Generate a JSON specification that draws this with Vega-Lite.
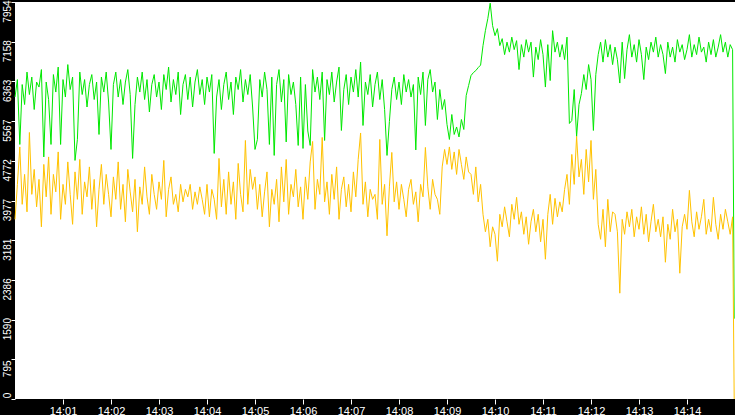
{
  "$schema": "https://vega.github.io/schema/vega-lite/v6.json",
  "width": 720,
  "height": 397,
  "autosize": {"type": "none"},
  "padding": {"left": 15, "top": 2, "right": 0, "bottom": 16},
  "background": "#000000",
  "config": {"view": {"fill": "#ffffff", "stroke": null}},
  "data": {
    "values": [
      {"t":0,"g":6050,"o":3600},{"t":3,"g":6400,"o":4300},{"t":6,"g":5100,"o":5050},{"t":9,"g":6300,"o":3900},{"t":12,"g":5900,"o":4500},
      {"t":15,"g":6550,"o":3750},{"t":18,"g":6100,"o":5340},{"t":21,"g":6450,"o":4100},{"t":24,"g":5800,"o":4600},{"t":27,"g":6350,"o":3850},
      {"t":30,"g":6250,"o":4400},{"t":33,"g":6600,"o":3450},{"t":36,"g":4850,"o":4700},{"t":39,"g":6350,"o":4050},{"t":42,"g":6000,"o":4850},
      {"t":45,"g":5100,"o":3700},{"t":48,"g":6500,"o":4500},{"t":51,"g":6150,"o":4150},{"t":54,"g":6650,"o":4950},{"t":57,"g":5100,"o":3600},
      {"t":60,"g":6400,"o":4300},{"t":63,"g":6050,"o":3900},{"t":66,"g":6700,"o":4750},{"t":69,"g":6200,"o":4100},{"t":72,"g":6450,"o":3500},
      {"t":75,"g":4780,"o":4550},{"t":78,"g":5200,"o":4000},{"t":81,"g":6550,"o":4800},{"t":84,"g":6100,"o":3700},{"t":87,"g":6400,"o":4350},
      {"t":90,"g":5850,"o":4050},{"t":93,"g":6300,"o":4650},{"t":96,"g":6500,"o":3800},{"t":99,"g":6000,"o":4400},{"t":102,"g":6350,"o":3450},
      {"t":105,"g":5300,"o":4200},{"t":108,"g":6450,"o":4700},{"t":111,"g":6150,"o":3900},{"t":114,"g":6550,"o":4500},{"t":117,"g":5950,"o":4100},
      {"t":120,"g":5000,"o":3650},{"t":123,"g":6300,"o":4450},{"t":126,"g":6550,"o":4000},{"t":129,"g":6050,"o":4750},{"t":132,"g":6400,"o":3800},
      {"t":135,"g":5900,"o":4300},{"t":138,"g":6350,"o":3550},{"t":141,"g":6600,"o":4600},{"t":144,"g":6100,"o":4150},{"t":147,"g":4820,"o":3750},
      {"t":150,"g":5900,"o":4400},{"t":153,"g":6450,"o":3350},{"t":156,"g":6150,"o":4250},{"t":159,"g":6550,"o":3900},{"t":162,"g":6000,"o":4650},
      {"t":165,"g":6400,"o":4050},{"t":168,"g":5750,"o":3700},{"t":171,"g":6300,"o":4500},{"t":174,"g":6500,"o":4100},{"t":177,"g":6050,"o":3800},
      {"t":180,"g":6350,"o":4350},{"t":183,"g":5800,"o":4000},{"t":186,"g":6500,"o":4780},{"t":189,"g":6200,"o":3650},{"t":192,"g":6650,"o":4200},
      {"t":195,"g":5950,"o":4450},{"t":198,"g":6400,"o":3900},{"t":201,"g":6100,"o":4100},{"t":204,"g":6550,"o":3750},{"t":207,"g":5700,"o":4300},
      {"t":210,"g":6300,"o":3950},{"t":213,"g":6500,"o":4200},{"t":216,"g":6000,"o":4050},{"t":219,"g":6450,"o":4300},{"t":222,"g":5850,"o":3800},
      {"t":225,"g":6350,"o":4150},{"t":228,"g":6600,"o":3900},{"t":231,"g":6100,"o":4250},{"t":234,"g":6400,"o":4000},{"t":237,"g":5900,"o":3700},
      {"t":240,"g":6450,"o":4300},{"t":243,"g":6150,"o":3650},{"t":246,"g":6500,"o":4200},{"t":249,"g":4920,"o":4000},{"t":252,"g":6050,"o":3600},
      {"t":255,"g":6400,"o":4820},{"t":258,"g":5800,"o":3850},{"t":261,"g":6300,"o":4400},{"t":264,"g":6550,"o":3700},{"t":267,"g":6000,"o":4550},
      {"t":270,"g":6350,"o":3900},{"t":273,"g":5700,"o":4350},{"t":276,"g":6450,"o":3600},{"t":279,"g":6200,"o":4720},{"t":282,"g":6600,"o":4100},
      {"t":285,"g":5950,"o":3750},{"t":288,"g":6400,"o":5180},{"t":291,"g":6100,"o":3900},{"t":294,"g":6500,"o":4600},{"t":297,"g":5850,"o":4200},
      {"t":300,"g":5000,"o":4450},{"t":303,"g":5200,"o":3800},{"t":306,"g":6400,"o":4300},{"t":309,"g":6050,"o":3650},{"t":312,"g":6550,"o":4150},
      {"t":315,"g":6200,"o":4550},{"t":318,"g":5100,"o":3450},{"t":321,"g":6450,"o":4200},{"t":324,"g":4880,"o":3900},{"t":327,"g":6300,"o":4400},
      {"t":330,"g":6600,"o":3550},{"t":333,"g":5950,"o":4650},{"t":336,"g":6400,"o":3950},{"t":339,"g":5150,"o":4800},{"t":342,"g":6500,"o":3700},
      {"t":345,"g":6100,"o":4300},{"t":348,"g":6350,"o":4050},{"t":351,"g":5900,"o":4600},{"t":354,"g":5080,"o":3850},{"t":357,"g":6450,"o":4250},
      {"t":360,"g":5020,"o":3600},{"t":363,"g":6300,"o":4450},{"t":366,"g":5370,"o":4000},{"t":369,"g":5080,"o":4750},{"t":372,"g":6600,"o":5160},
      {"t":375,"g":6150,"o":3800},{"t":378,"g":6450,"o":4400},{"t":381,"g":6000,"o":4100},{"t":384,"g":6550,"o":5240},{"t":387,"g":5180,"o":3950},
      {"t":390,"g":6400,"o":4350},{"t":393,"g":6100,"o":3700},{"t":396,"g":6550,"o":4500},{"t":399,"g":5950,"o":4000},{"t":402,"g":6350,"o":4650},
      {"t":405,"g":6650,"o":3600},{"t":408,"g":5380,"o":4200},{"t":411,"g":6200,"o":4450},{"t":414,"g":6500,"o":3850},{"t":417,"g":5900,"o":4300},
      {"t":420,"g":6450,"o":3750},{"t":423,"g":6150,"o":4550},{"t":426,"g":6600,"o":4050},{"t":429,"g":6050,"o":4800},{"t":432,"g":6750,"o":5330},
      {"t":435,"g":5480,"o":3900},{"t":438,"g":6350,"o":4350},{"t":441,"g":6100,"o":3650},{"t":444,"g":6500,"o":4200},{"t":447,"g":5850,"o":4000},
      {"t":450,"g":6300,"o":4100},{"t":453,"g":6550,"o":3600},{"t":456,"g":6000,"o":5200},{"t":459,"g":6400,"o":3900},{"t":462,"g":5800,"o":4300},
      {"t":465,"g":4880,"o":3270},{"t":468,"g":5560,"o":4250},{"t":471,"g":6200,"o":4940},{"t":474,"g":6450,"o":3950},{"t":477,"g":6000,"o":4350},
      {"t":480,"g":6350,"o":3800},{"t":483,"g":5900,"o":4300},{"t":486,"g":6500,"o":4000},{"t":489,"g":6150,"o":3650},{"t":492,"g":6400,"o":4200},
      {"t":495,"g":6050,"o":4400},{"t":498,"g":6300,"o":3900},{"t":501,"g":4990,"o":4150},{"t":504,"g":6450,"o":3550},{"t":507,"g":6100,"o":4300},
      {"t":510,"g":6550,"o":4050},{"t":513,"g":5480,"o":5040},{"t":516,"g":6400,"o":4250},{"t":519,"g":6600,"o":3800},{"t":522,"g":6150,"o":4400},
      {"t":525,"g":6350,"o":4100},{"t":528,"g":5600,"o":4000},{"t":531,"g":6200,"o":3700},{"t":534,"g":5800,"o":4650},{"t":537,"g":6000,"o":5000},
      {"t":540,"g":5500,"o":4700},{"t":543,"g":5200,"o":5050},{"t":546,"g":5700,"o":4600},{"t":549,"g":5300,"o":4950},{"t":552,"g":5450,"o":4500},
      {"t":555,"g":5250,"o":5000},{"t":558,"g":5600,"o":4700},{"t":561,"g":5400,"o":4400},{"t":564,"g":6080,"o":4850},{"t":567,"g":6280,"o":4550},
      {"t":570,"g":6480,"o":4500},{"t":573,"g":6540,"o":4100},{"t":576,"g":6580,"o":4650},{"t":579,"g":6640,"o":3950},{"t":582,"g":6690,"o":4300},
      {"t":585,"g":7080,"o":3700},{"t":588,"g":7380,"o":3350},{"t":591,"g":7620,"o":3600},{"t":594,"g":7930,"o":3050},{"t":597,"g":7480,"o":3450},
      {"t":600,"g":7280,"o":3300},{"t":603,"g":7420,"o":2760},{"t":606,"g":7080,"o":3700},{"t":609,"g":7220,"o":3450},{"t":612,"g":6900,"o":3850},
      {"t":615,"g":7150,"o":3550},{"t":618,"g":6950,"o":3250},{"t":621,"g":7250,"o":3900},{"t":624,"g":7000,"o":3600},{"t":627,"g":7180,"o":4040},
      {"t":630,"g":6600,"o":3500},{"t":633,"g":7100,"o":3750},{"t":636,"g":6850,"o":3300},{"t":639,"g":7200,"o":3650},{"t":642,"g":6950,"o":3100},
      {"t":645,"g":7150,"o":3550},{"t":648,"g":6450,"o":3800},{"t":651,"g":7050,"o":3350},{"t":654,"g":6800,"o":3700},{"t":657,"g":7200,"o":3150},
      {"t":660,"g":6900,"o":3600},{"t":663,"g":6250,"o":2800},{"t":666,"g":7100,"o":3700},{"t":669,"g":6380,"o":4100},{"t":672,"g":7380,"o":3500},
      {"t":675,"g":6950,"o":4020},{"t":678,"g":7150,"o":3650},{"t":681,"g":6850,"o":3950},{"t":684,"g":7100,"o":3750},{"t":687,"g":6800,"o":4200},
      {"t":690,"g":7250,"o":4500},{"t":693,"g":5520,"o":3900},{"t":696,"g":5580,"o":4900},{"t":699,"g":6200,"o":4300},{"t":702,"g":5260,"o":5260},
      {"t":705,"g":5900,"o":4450},{"t":708,"g":6120,"o":4800},{"t":711,"g":6500,"o":4100},{"t":714,"g":6200,"o":5000},{"t":717,"g":6700,"o":4350},
      {"t":720,"g":6400,"o":5180},{"t":723,"g":5380,"o":4000},{"t":726,"g":6500,"o":4600},{"t":729,"g":6900,"o":3500},{"t":732,"g":7150,"o":3200},
      {"t":735,"g":6750,"o":3800},{"t":738,"g":7200,"o":3050},{"t":741,"g":6850,"o":4000},{"t":744,"g":7100,"o":3350},{"t":747,"g":6700,"o":3750},
      {"t":750,"g":7050,"o":3700},{"t":753,"g":6800,"o":3350},{"t":756,"g":6330,"o":2120},{"t":759,"g":7150,"o":3600},{"t":762,"g":6420,"o":3300},
      {"t":765,"g":7000,"o":3750},{"t":768,"g":7300,"o":3450},{"t":771,"g":6850,"o":3800},{"t":774,"g":7100,"o":3250},{"t":777,"g":6750,"o":3650},
      {"t":780,"g":7200,"o":3400},{"t":783,"g":6900,"o":3850},{"t":786,"g":6400,"o":3300},{"t":789,"g":7050,"o":3700},{"t":792,"g":6800,"o":3150},
      {"t":795,"g":7150,"o":3550},{"t":798,"g":6950,"o":3900},{"t":801,"g":7250,"o":3350},{"t":804,"g":6850,"o":3600},{"t":807,"g":7100,"o":3250},
      {"t":810,"g":6900,"o":3650},{"t":813,"g":6520,"o":2740},{"t":816,"g":7150,"o":3500},{"t":819,"g":6850,"o":3200},{"t":822,"g":7050,"o":3800},
      {"t":825,"g":6750,"o":3350},{"t":828,"g":7200,"o":3600},{"t":831,"g":6950,"o":2520},{"t":834,"g":7100,"o":3450},{"t":837,"g":6800,"o":3700},
      {"t":840,"g":7000,"o":3400},{"t":843,"g":7300,"o":4180},{"t":846,"g":6850,"o":3550},{"t":849,"g":7100,"o":3250},{"t":852,"g":6900,"o":3750},
      {"t":855,"g":7250,"o":3400},{"t":858,"g":6950,"o":3650},{"t":861,"g":7050,"o":4000},{"t":864,"g":6750,"o":3300},{"t":867,"g":7150,"o":3600},
      {"t":870,"g":6900,"o":3350},{"t":873,"g":7200,"o":4040},{"t":876,"g":6850,"o":3500},{"t":879,"g":7050,"o":3200},{"t":882,"g":7300,"o":3700},
      {"t":885,"g":6950,"o":3400},{"t":888,"g":7150,"o":3800},{"t":891,"g":6850,"o":3550},{"t":894,"g":7100,"o":3300},{"t":897,"g":7000,"o":3650},
      {"t":899,"g":1610,"o":0}
    ]
  },
  "transform": [
    {"fold": ["g", "o"], "as": ["series", "value"]}
  ],
  "mark": {"type": "line", "strokeWidth": 1, "interpolate": "linear"},
  "encoding": {
    "x": {
      "field": "t",
      "type": "quantitative",
      "scale": {"domain": [0, 900], "nice": false, "zero": false},
      "axis": {
        "values": [60, 120, 180, 240, 300, 360, 420, 480, 540, 600, 660, 720, 780, 840],
        "labelExpr": "'14:' + (datum.value / 60 < 10 ? '0' : '') + (datum.value / 60)",
        "title": null,
        "grid": false,
        "domain": false,
        "ticks": true,
        "tickColor": "#ffffff",
        "tickSize": 5,
        "tickWidth": 1,
        "labelColor": "#ffffff",
        "labelFont": "Liberation Sans",
        "labelFontSize": 11,
        "labelPadding": 1,
        "labelFlush": false,
        "labelOverlap": false
      }
    },
    "y": {
      "field": "value",
      "type": "quantitative",
      "scale": {"domain": [0, 7954], "nice": false, "zero": true},
      "axis": {
        "values": [0, 795, 1590, 2386, 3181, 3977, 4772, 5567, 6363, 7158, 7954],
        "format": "d",
        "title": null,
        "grid": false,
        "domain": false,
        "tickColor": "#ffffff",
        "tickSize": 4,
        "tickWidth": 1,
        "labelColor": "#ffffff",
        "labelFont": "Liberation Sans",
        "labelFontSize": 10,
        "labelAngle": 270,
        "labelAlign": "center",
        "labelBaseline": "middle",
        "labelPadding": 4,
        "labelOffset": {"condition": {"test": "datum.value == 0", "value": -4}, "value": 9},
        "labelFlush": false,
        "labelOverlap": false
      }
    },
    "color": {
      "field": "series",
      "type": "nominal",
      "scale": {"domain": ["g", "o"], "range": ["#00e800", "#ffc200"]},
      "legend": null
    }
  }
}
